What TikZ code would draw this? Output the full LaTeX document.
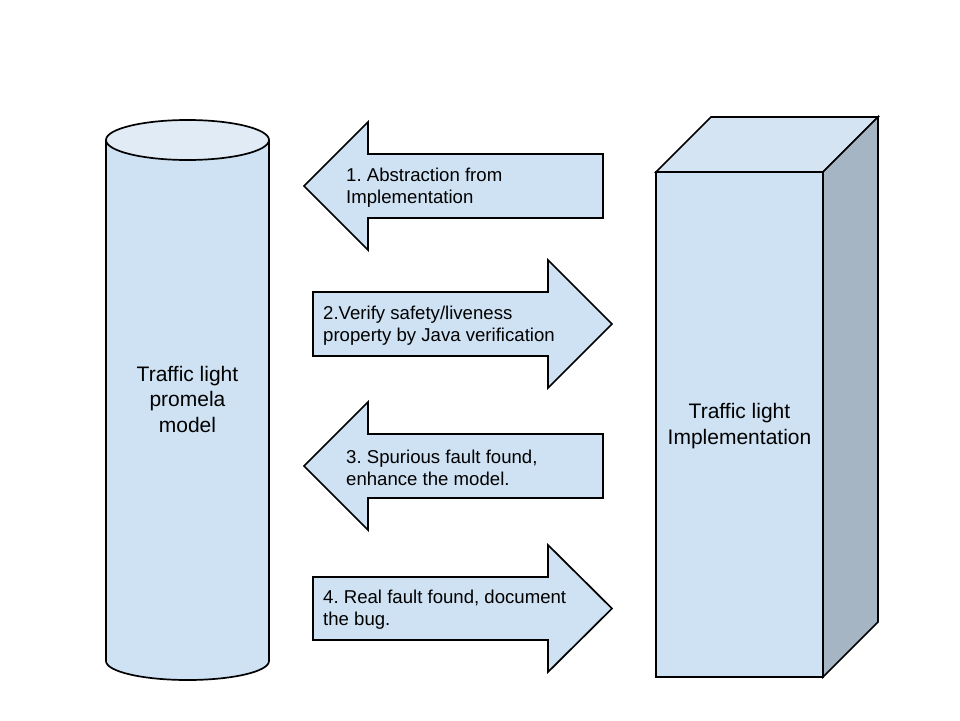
\documentclass[tikz,border=0pt]{standalone}
\usepackage{fontspec}
\setmainfont{Liberation Sans}
\frenchspacing
\definecolor{fillblue}{HTML}{CFE2F3}
\definecolor{toplight}{HTML}{E0EBF6}
\definecolor{boxtopc}{HTML}{D4E4F3}
\definecolor{boxsidec}{HTML}{A5B5C3}
\tikzset{
  shapeline/.style={draw=black, line width=1.7pt},
  arrowtext/.style={anchor=west, align=left, inner sep=0pt, font=\fontsize{18.6}{22}\selectfont},
  bigtext/.style={align=center, inner sep=0pt, font=\fontsize{21}{25.5}\selectfont}
}
\begin{document}
\begin{tikzpicture}[x=1pt,y=-1pt]
\path[use as bounding box, fill=white] (0,0) rectangle (960,720);
% cylinder
\fill[fillblue] (106,140) -- (106,661) .. controls (106,671.5) and (142.5,680) .. (187.5,680) .. controls (232.5,680) and (269,671.5) .. (269,661) -- (269,140) -- cycle;
\draw[shapeline] (106,140) -- (106,661) .. controls (106,671.5) and (142.5,680) .. (187.5,680) .. controls (232.5,680) and (269,671.5) .. (269,661) -- (269,140);
\path[shapeline, fill=toplight] (187.5,140) ellipse [x radius=81.5, y radius=20];
\node[bigtext] (model) at (187.5,399) {Traffic light\\promela\\model};
% box
\path[shapeline, fill=fillblue] (656,172) rectangle (823,677);
\path[shapeline, fill=boxtopc] (656,172) -- (711,117) -- (878,117) -- (823,172) -- cycle;
\path[shapeline, fill=boxsidec] (823,172) -- (878,117) -- (878,622) -- (823,677) -- cycle;
\node[bigtext] (impl) at (739.5,426) {Traffic light\\Implementation};
% arrows
\path[shapeline, fill=fillblue] (304,186) -- (368,122) -- (368,154) -- (603,154) -- (603,218) -- (368,218) -- (368,250) -- cycle;
\node[arrowtext] (a1) at (346,188) {1. Abstraction from\\Implementation};
\path[shapeline, fill=fillblue] (313,292) -- (548,292) -- (548,260) -- (612,324) -- (548,388) -- (548,356) -- (313,356) -- cycle;
\node[arrowtext] (a2) at (323,326) {2.Verify safety/liveness\\property by Java verification};
\path[shapeline, fill=fillblue] (304,466) -- (368,402) -- (368,434) -- (603,434) -- (603,498) -- (368,498) -- (368,530) -- cycle;
\node[arrowtext] (a3) at (346,468) {3. Spurious fault found,\\enhance the model.};
\path[shapeline, fill=fillblue] (313,577) -- (548,577) -- (548,545) -- (612,608.5) -- (548,672) -- (548,640) -- (313,640) -- cycle;
\node[arrowtext] (a4) at (323,610) {4. Real fault found, document\\the bug.};
\end{tikzpicture}
\end{document}
